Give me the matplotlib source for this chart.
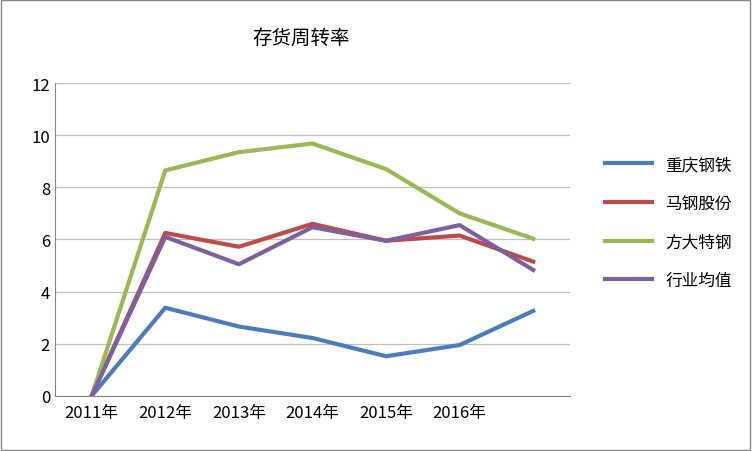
import matplotlib
matplotlib.use("Agg")
import matplotlib.pyplot as plt

plt.rcParams["font.family"] = ["Noto Sans CJK SC", "Noto Sans CJK JP", "Noto Sans CJK TC", "DejaVu Sans"]

categories = ["2011年", "2012年", "2013年", "2014年", "2015年", "2016年", ""]
cq = [0, 3.38, 2.66, 2.22, 1.52, 1.95, 3.26]
mg = [0, 6.25, 5.72, 6.6, 5.95, 6.15, 5.15]
fd = [0, 8.65, 9.35, 9.68, 8.7, 7.0, 6.03]
hy = [0, 6.1, 5.05, 6.47, 5.95, 6.55, 4.83]
names = ["重庆钢铁", "马钢股份", "方大特钢", "行业均值"]
colors = ["#4a7ebb", "#be4b48", "#98b954", "#7d60a0"]

fig = plt.figure(figsize=(7.52, 4.52), dpi=100)
ax = fig.add_axes([0.073, 0.122, 0.685, 0.692])
x = range(len(categories))
for s, n, c in zip([cq, mg, fd, hy], names, colors):
    ax.plot(x, s, color=c, lw=3, label=n)
ax.set_xlim(-0.5, 6.5)
ax.set_ylim(0, 12)
ax.set_yticks(range(0, 13, 2))
ax.set_xticks(list(x))
ax.set_xticklabels(categories, fontsize=12)
ax.tick_params(axis="y", labelsize=12, length=0)
ax.tick_params(axis="x", length=0, pad=6)
ax.grid(axis="y", color="#bfbfbf", lw=0.9)
ax.set_axisbelow(True)
for sp in ["top", "right"]:
    ax.spines[sp].set_visible(False)
ax.spines["left"].set_color("#868686")
ax.spines["bottom"].set_color("#868686")
fig.text(0.4, 0.915, "存货周转率", fontsize=14, ha="center", va="center")
fig.legend(loc="center left", bbox_to_anchor=(0.785, 0.505), frameon=False,
           fontsize=12, handlelength=2.8, labelspacing=1.3)
fig.patches.append(plt.Rectangle((0.001, 0.002), 0.997, 0.996, transform=fig.transFigure,
                                 fill=False, edgecolor="#868686", lw=1))
fig.savefig("out.png", dpi=100)
